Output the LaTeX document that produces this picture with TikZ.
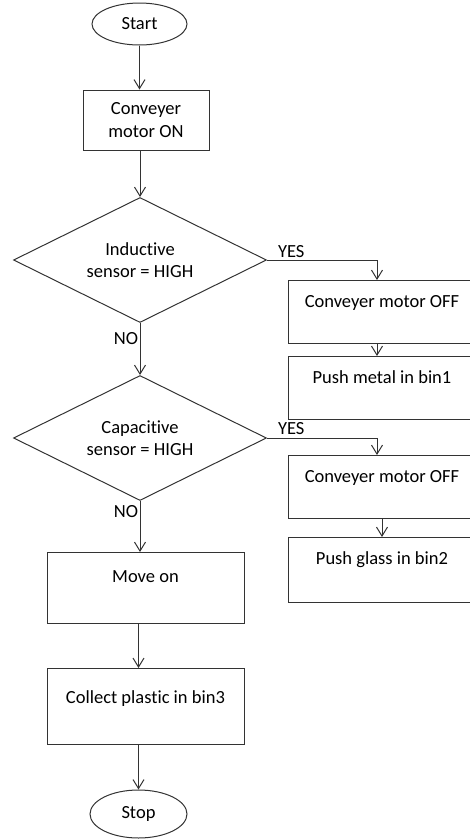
\documentclass[tikz,border=0pt]{standalone}
\usepackage{fontspec}
\setmainfont{Carlito}[Ligatures=NoCommon]
\usetikzlibrary{shapes.geometric,arrows.meta}
\tikzset{
	flow/.style={draw=black!80, line width=1pt, -{Straight Barb[length=9pt,width=11pt]}},
	terminal/.style={draw=black!80, line width=1pt, ellipse, inner sep=0pt},
	decision/.style={draw=black!80, line width=1pt, diamond, aspect=2, minimum width=253pt, minimum height=125pt, inner sep=0pt, align=center},
	rbox/.style={draw=black!80, line width=1pt, rectangle, inner sep=0pt, minimum width=188pt, text height=26.5pt, text depth=36.5pt, anchor=north},
	lbox/.style={draw=black!80, line width=1pt, rectangle, inner sep=0pt, minimum width=197pt, anchor=north},
	lbl/.style={inner sep=1.5pt}
}
\begin{document}
\begin{tikzpicture}[x=1pt,y=-1pt,font=\fontsize{18.5}{22.5}\selectfont]
			\clip (0,0) rectangle (470,839);
			% main column
			\node[terminal, minimum width=95pt, minimum height=42pt] (start) at (139.5,24) {Start};
			\node[draw=black!80, line width=1pt, minimum width=126pt, minimum height=60pt, align=center] (on) at (146,120) {Conveyer\\motor ON};
			\node[decision] (d1) at (140,260) {Inductive\\sensor = HIGH};
			\node[decision] (d2) at (140,438) {Capacitive\\sensor = HIGH};
			\node[lbox, text height=30pt, text depth=41pt] (move) at (145.5,552) {Move on};
			\node[lbox, text height=35pt, text depth=41pt] (collect) at (145.5,668) {Collect plastic in bin3};
			\node[terminal, minimum width=97pt, minimum height=48pt] (stop) at (138.5,814) {Stop};
			% right column
			\node[rbox] (off1) at (382,280) {Conveyer motor OFF};
			\node[rbox] (metal) at (382,356) {Push metal in bin1};
			\node[rbox] (off2) at (382,455) {Conveyer motor OFF};
			\node[rbox, text height=27pt, text depth=38pt] (glass) at (382,537) {Push glass in bin2};
			% connectors
			\draw[flow] (start) -- (start |- on.north);
			\draw[flow] (on.south -| d1.north) -- (d1.north);
			\draw[flow] (d1.east) -| node[lbl, above, pos=0.11] (yes1) {YES} ([xshift=-5pt]off1.north);
			\draw[flow] ([xshift=-5pt]off1.south) -- ([xshift=-5pt]metal.north);
			\draw[flow] (d1.south) -- node[lbl, left, pos=0.3] (no1) {NO} (d2.north);
			\draw[flow] (d2.east) -| node[lbl, above, pos=0.11, inner sep=3pt] (yes2) {YES} ([xshift=-5pt]off2.north);
			\draw[flow] (off2.south) -- (glass.north);
			\draw[flow] (d2.south) -- node[lbl, left, pos=0.2] (no2) {NO} (d2.south |- move.north);
			\draw[flow] (move.south -| stop.north) -- (collect.north -| stop.north);
			\draw[flow] (collect.south -| stop.north) -- (stop.north);
		\end{tikzpicture}
\end{document}
